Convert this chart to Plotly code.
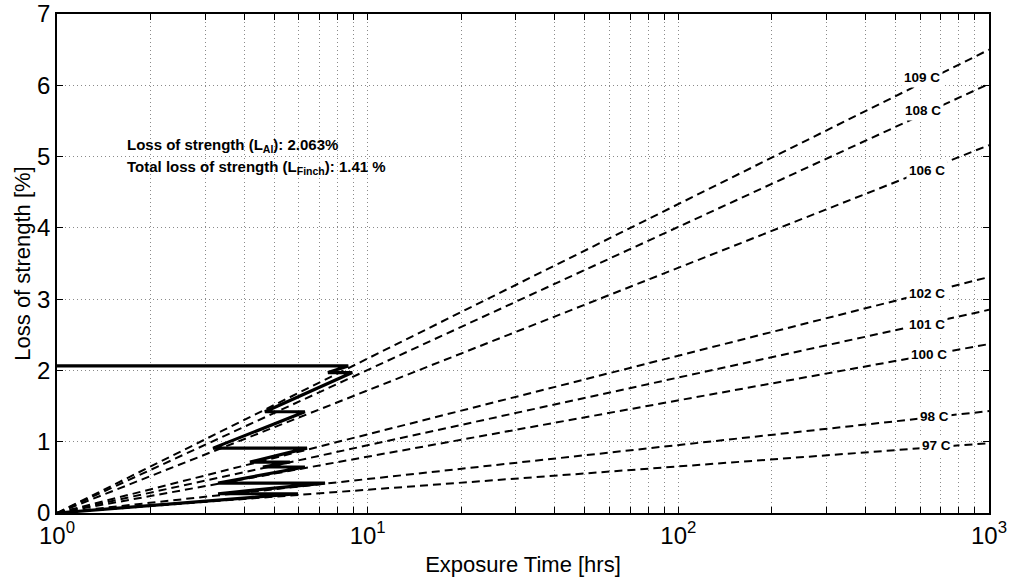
import numpy as np
import plotly.graph_objects as go

# ---- data ----
temps = ["109 C", "108 C", "106 C", "102 C", "101 C", "100 C", "98 C", "97 C"]
line_x = [1, 1000]
end_vals = [6.5, 6.02, 5.16, 3.31, 2.85, 2.37, 1.43, 0.98]
label_x = [608, 613, 631, 631, 631, 641, 670, 679]
label_y = [6.11, 5.64, 4.80, 3.08, 2.65, 2.23, 1.35, 0.94]

path_x = [1, 5.97, 3.30, 7.29, 3.30, 6.28, 4.60, 5.62, 4.18, 6.38, 3.18, 6.28, 4.67, 8.92, 7.45, 8.66, 1]
path_y = [0, 0.27, 0.27, 0.42, 0.42, 0.645, 0.645, 0.715, 0.715, 0.91, 0.91, 1.42, 1.42, 1.97, 1.97, 2.063, 2.063]

loss_al = "2.063%"
loss_finch = "1.41 %"

x_major = [1, 10, 100, 1000]
x_ticks = [m * d for d in [1, 10, 100] for m in range(1, 10)] + [1000]
x_ticktext = ["10<sup>%d</sup>" % int(round(np.log10(v))) if v in x_major else "" for v in x_ticks]
y_ticks = [0, 1, 2, 3, 4, 5, 6, 7]

FONT = "Liberation Sans, Arial, Helvetica, sans-serif"

fig = go.Figure()
for name, v in zip(temps, end_vals):
    fig.add_trace(go.Scatter(x=line_x, y=[0, v], mode="lines", name=name,
                             line=dict(color="black", width=2, dash="8px,5px"),
                             showlegend=False, hoverinfo="skip"))
fig.add_trace(go.Scatter(x=path_x, y=path_y, mode="lines", name="accumulated",
                         line=dict(color="black", width=3.2), showlegend=False))

for name, lx, ly in zip(temps, label_x, label_y):
    fig.add_annotation(x=np.log10(lx), y=ly, text="<b>%s</b>" % name, showarrow=False,
                       font=dict(family=FONT, size=13.5, color="black"),
                       bgcolor="white", borderpad=2, xanchor="center", yanchor="middle")

fig.add_annotation(x=np.log10(1.66), y=5.15, text="<b>Loss of strength (L<sub>Al</sub>): %s</b>" % loss_al,
                   showarrow=False, xanchor="left", yanchor="middle",
                   font=dict(family=FONT, size=15, color="black"))
fig.add_annotation(x=np.log10(1.66), y=4.85, text="<b>Total loss of strength (L<sub>Finch</sub>): %s</b>" % loss_finch,
                   showarrow=False, xanchor="left", yanchor="middle",
                   font=dict(family=FONT, size=15, color="black"))

grid = dict(showgrid=True, gridcolor="#8a8a8a", griddash="1px,3px", gridwidth=1)
fig.update_xaxes(type="log", range=[0, 3], tickvals=x_ticks, ticktext=x_ticktext,
                 ticks="inside", ticklen=6, tickcolor="black", mirror="ticks",
                 showline=True, linecolor="black", linewidth=1.5, automargin=False,
                 zeroline=False, tickfont=dict(family=FONT, size=24, color="black"),
                 title=dict(text="Exposure Time [hrs]", font=dict(family=FONT, size=22, color="black"), standoff=12),
                 **grid)
fig.update_yaxes(range=[0, 7], tickvals=y_ticks,
                 ticks="inside", ticklen=6, tickcolor="black", mirror="ticks",
                 showline=True, linecolor="black", linewidth=1.5, automargin=False,
                 zeroline=False, tickfont=dict(family=FONT, size=24, color="black"),
                 ticklabelstandoff=0,
                 title=dict(text="Loss of strength [%]", font=dict(family=FONT, size=22, color="black"), standoff=0),
                 **grid)

fig.update_layout(width=1014, height=577, margin=dict(l=57, r=25, t=14, b=64),
                  plot_bgcolor="white", paper_bgcolor="white", showlegend=False)

fig.write_html("out.html", config={"displayModeBar": False},
               post_script="document.body.style.margin='0';")
